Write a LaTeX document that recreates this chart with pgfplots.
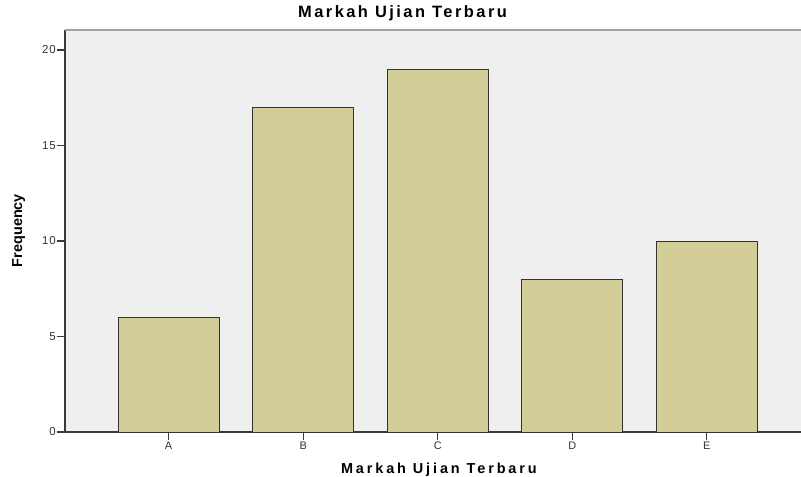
\documentclass[border=0pt]{standalone}
\usepackage{fontspec}
\setmainfont{Liberation Sans}
\newfontfamily\titlefont[LetterSpace=15]{Liberation Sans}
\newfontfamily\xlabfont[LetterSpace=20]{Liberation Sans}
\newfontfamily\tickfont[LetterSpace=8]{Liberation Sans}
\usepackage{pgfplots}
\pgfplotsset{compat=1.18}
\definecolor{bgc}{HTML}{EFEFEF}
\definecolor{barc}{HTML}{D3CE98}
\definecolor{axc}{HTML}{3A3A3A}
\begin{document}
\begin{tikzpicture}
\useasboundingbox (0,0) rectangle (801bp,477bp);
\begin{axis}[
  at={(65bp,45bp)}, anchor=south west,
  scale only axis, width=736bp, height=402bp,
  xmin=-0.77, xmax=4.70, ymin=0, ymax=21.05,
  axis background/.style={fill=bgc},
  axis x line*=bottom, axis y line*=left,
  axis line style={axc, line width=2pt},
  every outer x axis line/.append style={-},
  every outer y axis line/.append style={-},
  xtick={0,1,2,3,4}, xticklabels={A,B,C,D,E},
  ytick={0,5,10,15,20},
  tick align=outside, tick pos=left,
  major tick length=8bp,
  xtick style={axc, line width=1.2pt},
  ytick style={axc, line width=1.2pt},
  x tick label style={font=\tickfont\fontsize{11}{12}\selectfont, text=black!80, inner sep=1bp, yshift=-1bp},
  y tick label style={font=\tickfont\fontsize{11.5}{12}\selectfont, text=black!80, inner sep=1bp},
  /pgf/number format/assume math mode=true,
  title={\titlefont\bfseries Markah Ujian Terbaru},
  title style={font=\fontsize{16.5}{18}\selectfont, at={(axis description cs:0.4586,1)}, anchor=base, yshift=7bp},
  xlabel={\xlabfont\bfseries Markah Ujian Terbaru},
  xlabel style={font=\fontsize{14.5}{16}\selectfont, at={(axis description cs:0.508,0)}, anchor=base, yshift=-41bp},
  ylabel={\bfseries Frequency},
  ylabel style={font=\fontsize{14.5}{16}\selectfont, at={(axis description cs:0,0.501)}, anchor=base, yshift=43bp},
  ybar, bar width=0.75, bar shift=0pt,
  clip=false,
]
\draw[gray!75, line width=2pt] (rel axis cs:0,1) -- (rel axis cs:1,1);
\addplot[fill=barc, draw=black!80, line width=1pt] coordinates {(0,6) (1,17) (2,19) (3,8) (4,10)};
\end{axis}
\end{tikzpicture}
\end{document}
